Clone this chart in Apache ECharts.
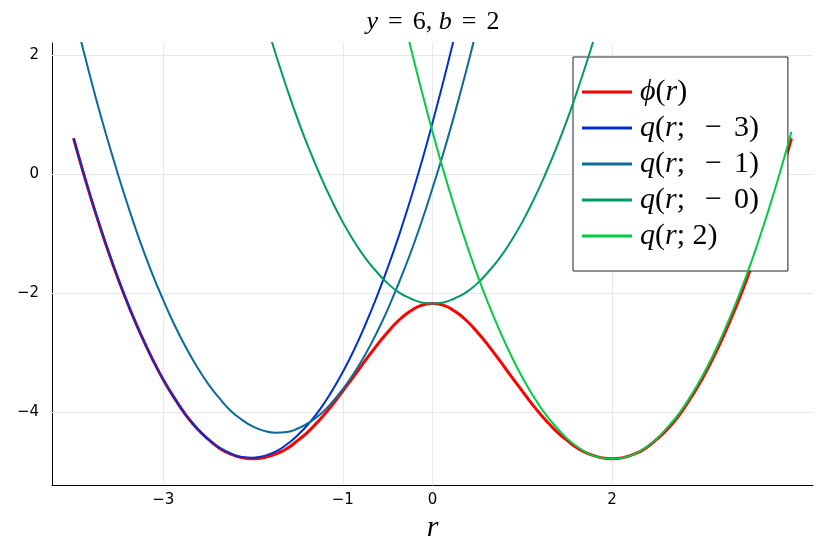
<!DOCTYPE html>
<html>
<head>
<meta charset="utf-8">
<script src="https://cdn.jsdelivr.net/npm/echarts@6/dist/echarts.min.js"></script>
<style>html,body{margin:0;padding:0;background:#fff}#c{width:830px;height:554px}</style>
</head>
<body>
<div id="c"></div>
<script>
// r sample points (step 0.125)
const r = [-4,-3.875,-3.75,-3.625,-3.5,-3.375,-3.25,-3.125,-3,-2.875,-2.75,-2.625,-2.5,-2.375,-2.25,-2.125,
  -2,-1.875,-1.75,-1.625,-1.5,-1.375,-1.25,-1.125,-1,-0.875,-0.75,-0.625,-0.5,-0.375,-0.25,-0.125,
  0,0.125,0.25,0.375,0.5,0.625,0.75,0.875,1,1.125,1.25,1.375,1.5,1.625,1.75,1.875,
  2,2.125,2.25,2.375,2.5,2.625,2.75,2.875,3,3.125,3.25,3.375,3.5,3.625,3.75,3.875,4];
const phi = [0.61,-0.05,-0.67,-1.24,-1.77,-2.25,-2.69,-3.09,-3.45,-3.76,-4.04,-4.27,-4.45,-4.60,-4.70,-4.76,
  -4.78,-4.76,-4.70,-4.61,-4.47,-4.31,-4.11,-3.89,-3.64,-3.39,-3.13,-2.88,-2.65,-2.45,-2.30,-2.20,
  -2.17,-2.20,-2.30,-2.45,-2.65,-2.88,-3.13,-3.39,-3.64,-3.89,-4.11,-4.31,-4.47,-4.61,-4.70,-4.76,
  -4.78,-4.76,-4.70,-4.60,-4.45,-4.27,-4.04,-3.76,-3.45,-3.09,-2.69,-2.25,-1.77,-1.24,-0.67,-0.05,0.61];
const qm3 = [0.61,-0.05,-0.66,-1.23,-1.76,-2.25,-2.69,-3.09,-3.45,-3.76,-4.04,-4.26,-4.45,-4.59,-4.69,-4.75,
  -4.76,-4.73,-4.66,-4.54,-4.38,-4.18,-3.94,-3.65,-3.32,-2.95,-2.53,-2.07,-1.57,-1.03,-0.44,0.19,
  0.87,1.59,2.35,3.15,null,null,null,null,null,null,null,null,null,null,null,null,
  null,null,null,null,null,null,null,null,null,null,null,null,null,null,null,null,null];
const qm1 = [2.76,2.00,1.28,0.61,-0.02,-0.61,-1.16,-1.66,-2.11,-2.53,-2.90,-3.23,-3.52,-3.76,-3.97,-4.12,
  -4.24,-4.31,-4.34,-4.33,-4.27,-4.17,-4.03,-3.84,-3.61,-3.34,-3.03,-2.67,-2.27,-1.82,-1.34,-0.81,
  -0.23,0.38,1.04,1.74,2.49,3.27,null,null,null,null,null,null,null,null,null,null,
  null,null,null,null,null,null,null,null,null,null,null,null,null,null,null,null,null];
const q0 = [null,null,null,null,null,null,null,null,null,null,null,null,null,null,4.79,4.04,
  3.33,2.66,2.04,1.46,0.92,0.43,-0.02,-0.43,-0.80,-1.12,-1.40,-1.63,-1.83,-1.98,-2.08,-2.15,
  -2.17,-2.15,-2.08,-1.98,-1.83,-1.63,-1.40,-1.12,-0.80,-0.43,-0.02,0.43,0.92,1.46,2.04,2.66,
  3.33,4.04,4.79,null,null,null,null,null,null,null,null,null,null,null,null,null,null];
const q2 = [null,null,null,null,null,null,null,null,null,null,null,null,null,null,null,null,
  null,null,null,null,null,null,null,null,null,null,null,null,3.81,2.97,2.18,1.43,
  0.72,0.05,-0.57,-1.15,-1.69,-2.18,-2.63,-3.04,-3.41,-3.73,-4.01,-4.24,-4.44,-4.59,-4.70,-4.76,
  -4.78,-4.76,-4.70,-4.59,-4.44,-4.24,-4.01,-3.73,-3.41,-3.04,-2.63,-2.18,-1.69,-1.15,-0.57,0.05,0.72];
const xTicks = [-3,-1,0,2];
const yTicks = [-4,-2,0,2];
const names = ['ϕ(r)','q(r; −3)','q(r; −1)','q(r; −0)','q(r; 2)'];
const legendText = {
  'ϕ(r)': '{i|ϕ}({i|r})',
  'q(r; −3)': '{i|q}({i|r};{m|−}3)',
  'q(r; −1)': '{i|q}({i|r};{m|−}1)',
  'q(r; −0)': '{i|q}({i|r};{m|−}0)',
  'q(r; 2)': '{i|q}({i|r}; 2)'
};
const colors = ['#ff0000','#0030d0','#0a6a9a','#009a66','#00cc44'];
const widths = [3,2,2,2,2];
const values = [phi,qm3,qm1,q0,q2];

function pairs(arr){
  const out=[];
  for(let i=0;i<r.length;i++){ if(arr[i]!==null) out.push([r[i],arr[i]]); }
  return out;
}
const fmt = v => v<0 ? '\u2212'+Math.abs(v) : String(v);
const serif = 'Liberation Serif';

const series = [{
  type:'line', data:[], z:0, silent:true,
  markLine:{silent:true, z:1, symbol:['none','none'], label:{show:false}, animation:false,
    emphasis:{disabled:true},
    lineStyle:{color:'#e8e8e8', width:1, type:'solid'},
    data:[...xTicks.map(v=>({xAxis:v})), ...yTicks.map(v=>({yAxis:v}))]}
}];
names.forEach((n,i)=>{
  series.push({
    name:n, type:'line', data:pairs(values[i]), smooth:true, showSymbol:false, symbol:'none',
    clip:true, z:3+i,
    lineStyle:{color:colors[i], width:widths[i]},
    itemStyle:{color:colors[i]}
  });
});

const chart = echarts.init(document.getElementById('c'));
chart.setOption({
  animation:false,
  backgroundColor:'#fff',
  title:{
    text:'{i|y}{e|=}6, {i|b}{e|=}2', left:428, textAlign:'center', top:4,
    textStyle:{fontFamily:serif, fontSize:26, fontWeight:'normal', color:'#000',
      rich:{i:{fontFamily:serif, fontSize:26, fontStyle:'italic', color:'#000'},
            e:{fontFamily:serif, fontSize:26, color:'#000', padding:[0,10,0,10]}}}
  },
  grid:{left:52, right:17, top:43, bottom:69},
  xAxis:{
    type:'value', min:-4.24, max:4.24,
    name:'r', nameLocation:'middle', nameGap:26,
    nameTextStyle:{fontFamily:serif, fontSize:30, fontStyle:'italic', color:'#000'},
    axisLine:{show:true, onZero:false, lineStyle:{color:'#000', width:1}},
    axisTick:{show:true, inside:true, length:6, customValues:xTicks, lineStyle:{color:'#000'}},
    axisLabel:{customValues:xTicks, formatter:fmt, fontFamily:'DejaVu Sans', fontSize:15, color:'#000', margin:8},
    splitLine:{show:false}
  },
  yAxis:{
    type:'value', min:-5.22, max:2.212,
    axisLine:{show:true, onZero:false, lineStyle:{color:'#000', width:1}},
    axisTick:{show:true, inside:true, length:6, customValues:yTicks, lineStyle:{color:'#000'}},
    axisLabel:{customValues:yTicks, formatter:fmt, fontFamily:'DejaVu Sans', fontSize:15, color:'#000', margin:13},
    splitLine:{show:false}
  },
  legend:{
    data:names, orient:'vertical', left:573, top:57,
    padding:[20,29,20,9], itemWidth:50, itemHeight:3, itemGap:6,
    icon:'rect', selectedMode:false,
    backgroundColor:'#fff', borderColor:'#222', borderWidth:1,
    formatter: n => legendText[n],
    textStyle:{fontFamily:serif, fontSize:30, lineHeight:30, color:'#000', padding:[0,0,0,3],
      rich:{i:{fontFamily:serif, fontSize:30, lineHeight:30, fontStyle:'italic', color:'#000'},
            m:{fontFamily:serif, fontSize:30, lineHeight:30, color:'#000', padding:[0,12,0,20]}}}
  },
  series:series
});
</script>
</body>
</html>
